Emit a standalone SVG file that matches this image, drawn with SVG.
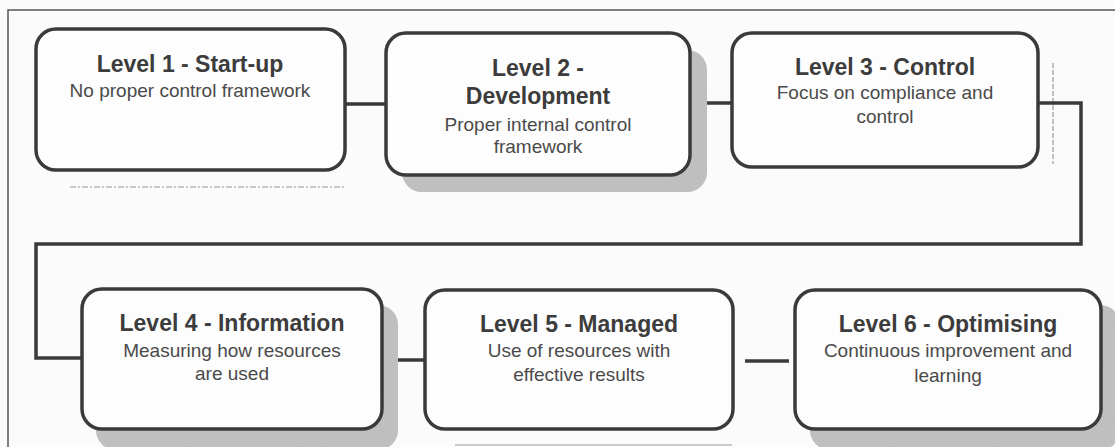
<svg xmlns="http://www.w3.org/2000/svg" width="1115" height="447" viewBox="0 0 1115 447">
  <defs>
    <filter id="grain" x="-5%" y="-5%" width="110%" height="110%">
      <feTurbulence type="fractalNoise" baseFrequency="0.9" numOctaves="2" seed="3" result="noise"/>
      <feColorMatrix in="noise" type="matrix" values="0 0 0 0 0.55  0 0 0 0 0.55  0 0 0 0 0.55  0 0 0 1.4 -0.35" result="speck"/>
      <feComposite in="speck" in2="SourceGraphic" operator="in" result="speckIn"/>
      <feMerge>
        <feMergeNode in="SourceGraphic"/>
        <feMergeNode in="speckIn"/>
      </feMerge>
    </filter>
  </defs>
  <style>
    .box { fill: #fdfdfd; stroke: #3a3a3a; stroke-width: 3.5; }
    .shadow { fill: #bdbdbd; }
    .link { fill: none; stroke: #3a3a3a; stroke-width: 3.5; }
    .frame { fill: none; stroke: #555555; stroke-width: 1.5; }
    .faint { fill: none; stroke: #9a9a9a; stroke-width: 1.2; }
    .title { font-family: "Liberation Sans", Arial, sans-serif; font-size: 23px; font-weight: bold; fill: #3c3c3c; text-anchor: middle; }
    .sub { font-family: "Liberation Sans", Arial, sans-serif; font-size: 19px; fill: #4a4a4a; text-anchor: middle; }
  </style>

  <rect x="0" y="0" width="1115" height="447" fill="#fbfbfb"/>

  <!-- page frame -->
  <path class="frame" d="M8 447 V10 H1115"/>

  <!-- stray rules -->
  <path class="faint" d="M70 187 H345" stroke-dasharray="6 2 2 2"/>
  <path class="faint" d="M1053 63 V164" stroke-dasharray="5 2"/>
  <path class="faint" d="M455 445 H732" stroke="#7a7a7a" stroke-width="2"/>

  <!-- connectors -->
  <g id="connectors">
    <path class="link" d="M345 104 H386"/>
    <path class="link" d="M690 103 H732"/>
    <path class="link" d="M1038 103 H1081 V244 H36 V358 H82"/>
    <path class="link" d="M382 360 H425"/>
    <path class="link" d="M745 361 H789"/>
  </g>

  <g id="level1">
    <rect class="box" x="36" y="29" width="309" height="141" rx="20"/>
    <text class="title" x="190" y="72">Level 1 - Start-up</text>
    <text class="sub" x="190" y="97">No proper control framework</text>
  </g>

  <g id="level2">
    <rect class="shadow" x="402" y="50" width="305" height="142" rx="20" filter="url(#grain)"/>
    <rect class="box" x="386" y="33" width="304" height="142" rx="20"/>
    <text class="title" x="538" y="76">Level 2 -</text>
    <text class="title" x="538" y="104">Development</text>
    <text class="sub" x="538" y="131">Proper internal control</text>
    <text class="sub" x="538" y="153">framework</text>
  </g>

  <g id="level3">
    <rect class="box" x="732" y="33" width="306" height="134" rx="20"/>
    <text class="title" x="885" y="75">Level 3 - Control</text>
    <text class="sub" x="885" y="99">Focus on compliance and</text>
    <text class="sub" x="885" y="123">control</text>
  </g>

  <g id="level4">
    <rect class="shadow" x="96" y="305" width="302" height="145" rx="20" filter="url(#grain)"/>
    <rect class="box" x="82" y="289" width="300" height="140" rx="20"/>
    <text class="title" x="232" y="331">Level 4 - Information</text>
    <text class="sub" x="232" y="357">Measuring how resources</text>
    <text class="sub" x="232" y="380">are used</text>
  </g>

  <g id="level5">
    <rect class="box" x="425" y="290" width="308" height="139" rx="20"/>
    <text class="title" x="579" y="332">Level 5 - Managed</text>
    <text class="sub" x="579" y="357">Use of resources with</text>
    <text class="sub" x="579" y="381">effective results</text>
  </g>

  <g id="level6">
    <rect class="shadow" x="810" y="305" width="310" height="145" rx="20" filter="url(#grain)"/>
    <rect class="box" x="795" y="290" width="306" height="139" rx="20"/>
    <text class="title" x="948" y="332">Level 6 - Optimising</text>
    <text class="sub" x="948" y="357">Continuous improvement and</text>
    <text class="sub" x="948" y="382">learning</text>
  </g>
</svg>
